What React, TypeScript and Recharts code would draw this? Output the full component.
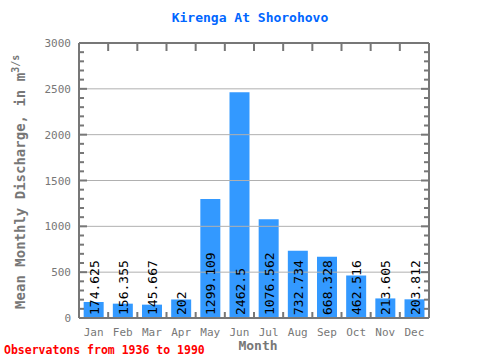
import { BarChart, Bar, Line, XAxis, YAxis, ReferenceLine, LabelList } from 'recharts';

const months = ['Jan', 'Feb', 'Mar', 'Apr', 'May', 'Jun', 'Jul', 'Aug', 'Sep', 'Oct', 'Nov', 'Dec'];
const discharge = [174.625, 156.355, 145.667, 202, 1299.109, 2462.5, 1076.562, 732.734, 668.328, 462.516, 213.605, 203.812];
const dischargeLabels = ['174.625', '156.355', '145.667', '202', '1299.109', '2462.5', '1076.562', '732.734', '668.328', '462.516', '213.605', '203.812'];
const yMajorTicks = [0, 500, 1000, 1500, 2000, 2500, 3000];
const yMinorTicks = [
  0, 100, 200, 300, 400, 500, 600, 700, 800, 900, 1000, 1100, 1200, 1300, 1400, 1500,
  1600, 1700, 1800, 1900, 2000, 2100, 2200, 2300, 2400, 2500, 2600, 2700, 2800, 2900, 3000,
];
const gridLines = [500, 1000, 1500, 2000, 2500];

const data = months.map((m, i) => ({ month: m, value: discharge[i], label: dischargeLabels[i] }));

const FONT = '"DejaVu Sans Mono", monospace';
const AXIS = '#777777';

function LeftTick(props: any) {
  const { x, y, payload } = props;
  const major = yMajorTicks.includes(payload.value);
  return (
    <g>
      <line x1={x} x2={x + (major ? 8 : 5)} y1={y} y2={y} stroke={AXIS} strokeWidth={2} />
      {major && (
        <text x={x - 8} y={y} dy={4} textAnchor="end" fill={AXIS} fontSize={11} fontFamily={FONT}>
          {payload.value}
        </text>
      )}
    </g>
  );
}

function RightTick(props: any) {
  const { x, y, payload } = props;
  const major = yMajorTicks.includes(payload.value);
  return (
    <g>
      <line x1={x} x2={x - (major ? 8 : 5)} y1={y} y2={y} stroke={AXIS} strokeWidth={2} />
    </g>
  );
}

function TopTick(props: any) {
  const { x, y, payload } = props;
  const half = payload.offset || 14.58;
  return (
    <g>
      <line x1={x - half} x2={x - half} y1={y} y2={y + 8} stroke={AXIS} strokeWidth={2} />
    </g>
  );
}

function MonthTick(props: any) {
  const { x, y, payload } = props;
  const half = payload.offset || 14.58;
  return (
    <g>
      <line x1={x - half} x2={x - half} y1={y} y2={y - 6} stroke={AXIS} strokeWidth={2} />
      <text x={x} y={y} dy={18} textAnchor="middle" fill={AXIS} fontSize={11} fontFamily={FONT}>
        {payload.value}
      </text>
    </g>
  );
}

function BarText(props: any) {
  const { x, y, width, height, value } = props;
  const cx = x + width / 2 + 5;
  const by = y + height - 3;
  return (
    <text
      x={cx}
      y={by}
      transform={`rotate(-90 ${cx} ${by})`}
      textAnchor="start"
      fill="#000"
      fontSize={13}
      fontFamily={FONT}
    >
      {value}
    </text>
  );
}

export default function App() {
  return (
    <div style={{ position: 'absolute', left: 0, top: 0, width: 480, height: 360, background: '#fff', fontFamily: FONT }}>
      <div
        style={{
          position: 'absolute', left: 0, top: 10, width: 500, textAlign: 'center',
          color: '#0066ff', fontSize: 13, fontWeight: 'bold',
        }}
      >
        Kirenga At Shorohovo
      </div>
      <div
        style={{
          position: 'absolute', left: 18, top: 180, width: 300, marginLeft: -150, marginTop: -9,
          transform: 'rotate(-90deg)', textAlign: 'center', color: AXIS, fontSize: 14,
          fontWeight: 'bold', whiteSpace: 'nowrap', lineHeight: '18px',
        }}
      >
        Mean Monthly Discharge, in m<sup style={{ fontSize: 10 }}>3/s</sup>
      </div>
      <div
        style={{
          position: 'absolute', left: 218, top: 338, width: 80, textAlign: 'center',
          color: AXIS, fontSize: 13, fontWeight: 'bold',
        }}
      >
        Month
      </div>
      <div style={{ position: 'absolute', left: 4, top: 343, color: '#ff0000', fontSize: 11.5, fontWeight: 'bold', whiteSpace: 'nowrap' }}>
        Observatons from 1936 to 1990
      </div>
      <div style={{ position: 'absolute', left: 0, top: 0 }}>
        <BarChart width={480} height={360} data={data} margin={{ top: 42, right: 50, left: 19, bottom: 22 }} barCategoryGap="16%">
          <XAxis
            dataKey="month"
            height={20}
            axisLine={{ stroke: AXIS, strokeWidth: 2 }}
            tickLine={false}
            tickSize={0}
            tickMargin={0}
            tick={<MonthTick />}
            interval={0}
          />
          <XAxis
            xAxisId="top"
            dataKey="month"
            orientation="top"
            height={1}
            axisLine={{ stroke: AXIS, strokeWidth: 2 }}
            tickLine={false}
            tickSize={0}
            tickMargin={0}
            tick={<TopTick />}
            interval={0}
          />
          <YAxis
            yAxisId="left"
            width={60}
            domain={[0, 3000]}
            ticks={yMinorTicks}
            interval={0}
            axisLine={{ stroke: AXIS, strokeWidth: 2 }}
            tickLine={false}
            tickSize={0}
            tickMargin={0}
            tick={<LeftTick />}
          />
          <YAxis
            yAxisId="right"
            orientation="right"
            width={1}
            domain={[0, 3000]}
            ticks={yMinorTicks}
            interval={0}
            axisLine={{ stroke: AXIS, strokeWidth: 2 }}
            tickLine={false}
            tickSize={0}
            tickMargin={0}
            tick={<RightTick />}
          />
          <Bar dataKey="value" yAxisId="left" fill="#3399ff" isAnimationActive={false}>
            <LabelList dataKey="label" content={<BarText />} />
          </Bar>
          <Line
            dataKey="value"
            xAxisId="top"
            yAxisId="right"
            stroke="none"
            dot={false}
            activeDot={false}
            legendType="none"
            isAnimationActive={false}
          />
          {gridLines.map((v) => (
            <ReferenceLine key={v} y={v} yAxisId="left" stroke="#b0b0b0" strokeWidth={1} />
          ))}
        </BarChart>
      </div>
    </div>
  );
}
